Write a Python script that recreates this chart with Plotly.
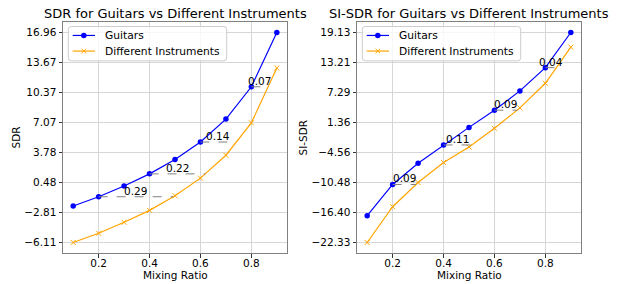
import numpy as np
import plotly.graph_objects as go

# ---- data ----
ratios = [0.1, 0.2, 0.3, 0.4, 0.5, 0.6, 0.7, 0.8, 0.9]
sdr_guitars = [-2.10, -1.08, 0.09, 1.43, 3.00, 4.93, 7.45, 11.00, 16.963]
sdr_different = [-6.110, -5.09, -3.89, -2.58, -0.97, 0.96, 3.48, 7.04, 13.06]
sisdr_guitars = [-17.03, -10.87, -6.67, -3.07, 0.40, 3.80, 7.60, 12.19, 19.1306]
sisdr_different = [-22.3255, -15.26, -10.48, -6.55, -3.47, 0.21, 4.25, 9.11, 16.24]
gap_ratios = [0.2, 0.4, 0.6, 0.8]
x_ticks = [0.2, 0.4, 0.6, 0.8]
series_names = ["Guitars", "Different Instruments"]
titles = ["SDR for Guitars vs Different Instruments", "SI-SDR for Guitars vs Different Instruments"]
y_titles = ["SDR", "SI-SDR"]

FONT = "DejaVu Sans"
BLUE = "#0000ff"
ORANGE = "#ffa500"

# page body margin is removed by post_script -> figure fills the window
OFF = 0
W, H = 625 - OFF, 284 - OFF
ML, MR, MT, MB = 63 - OFF, 44, 21.5 - OFF, 30.5
PW = W - ML - MR
PH = H - MT - MB


def fx(px):
    return (px - OFF - ML) / PW


def fy(py):
    return 1 - (py - OFF - MT) / PH


fig = go.Figure()

panels = [
    (sdr_guitars, sdr_different, "x", "y", [fx(63), fx(287)], 0),
    (sisdr_guitars, sisdr_different, "x2", "y2", [fx(357), fx(581)], 294),
]

annotations = []
shapes = []
for i, (g, d, xa, ya, dom, lgoff) in enumerate(panels):
    fig.add_trace(go.Scatter(
        x=ratios, y=g, mode="lines+markers", name=series_names[0],
        line=dict(color=BLUE, width=1.2),
        marker=dict(symbol="circle", size=5.5, color=BLUE),
        xaxis=xa, yaxis=ya, showlegend=False))
    fig.add_trace(go.Scatter(
        x=ratios, y=d, mode="lines+markers", name=series_names[1],
        line=dict(color=ORANGE, width=1.2),
        marker=dict(symbol="x-thin", size=5, color=ORANGE, line=dict(color=ORANGE, width=1)),
        xaxis=xa, yaxis=ya, showlegend=False))

    # gap lines: horizontal distance until the other curve reaches the same value
    for r in gap_ratios:
        gv = float(np.interp(r, ratios, g))
        x_end = float(np.interp(gv, d, ratios))
        gap = x_end - r
        fig.add_trace(go.Scatter(
            x=[r, x_end], y=[gv, gv], mode="lines",
            line=dict(color="gray", width=1, dash="dash"),
            showlegend=False, hoverinfo="skip", xaxis=xa, yaxis=ya))
        annotations.append(dict(
            x=(r + x_end) / 2, y=gv, xref=xa, yref=ya, text=f"{gap:.2f}",
            showarrow=False, yanchor="bottom", xanchor="center", yshift=-2,
            font=dict(family=FONT, size=10.5, color="black")))

    lo, hi = min(d), max(g)
    span = hi - lo
    yt = np.linspace(lo, hi, 8)
    yt_text = [f"{v:.2f}".replace("-", "\u2212") for v in yt]
    axis_common = dict(
        showline=True, mirror=True, linecolor="#808080", linewidth=1,
        ticks="outside", ticklen=3.5, tickcolor="#333", tickwidth=1,
        showgrid=True, gridcolor="#d6d6d6", gridwidth=1, zeroline=False,
        tickfont=dict(family=FONT, size=10.5, color="black"))
    xkey = "xaxis" if xa == "x" else "xaxis2"
    ykey = "yaxis" if ya == "y" else "yaxis2"
    fig.update_layout(**{
        xkey: dict(domain=dom, range=[0.06, 0.94], tickvals=x_ticks,
                   ticktext=[f"{v:.1f}" for v in x_ticks], anchor=ya,
                   ticklabelstandoff=-3, **axis_common),
        ykey: dict(domain=[0, 1], range=[lo - 0.05 * span, hi + 0.05 * span],
                   tickvals=list(yt), ticktext=yt_text, anchor=xa, **axis_common),
    })

    # titles
    annotations.append(dict(
        x=0.5, y=fy(12.8), xref=f"{xa} domain", yref="paper",
        text=titles[i], showarrow=False, xanchor="center", yanchor="middle",
        font=dict(family=FONT, size=13, color="black")))
    annotations.append(dict(
        x=0.5, y=fy(275.5), xref=f"{xa} domain", yref="paper",
        text="Mixing Ratio", showarrow=False, xanchor="center", yanchor="middle",
        font=dict(family=FONT, size=10.5, color="black")))
    ytx = 15 if i == 0 else 302
    annotations.append(dict(
        x=fx(ytx), y=0.5, xref="paper", yref="paper",
        text=y_titles[i], showarrow=False, textangle=-90,
        xanchor="center", yanchor="middle",
        font=dict(family=FONT, size=10.5, color="black")))

    # legend box (matplotlib style, rounded corners)
    L, R, T, B = 68.3 + lgoff, 226.7 + lgoff, 26, 60.5
    rr = 3
    path = (f"M {fx(L + rr)},{fy(T)} L {fx(R - rr)},{fy(T)} Q {fx(R)},{fy(T)} {fx(R)},{fy(T + rr)} "
            f"L {fx(R)},{fy(B - rr)} Q {fx(R)},{fy(B)} {fx(R - rr)},{fy(B)} "
            f"L {fx(L + rr)},{fy(B)} Q {fx(L)},{fy(B)} {fx(L)},{fy(B - rr)} "
            f"L {fx(L)},{fy(T + rr)} Q {fx(L)},{fy(T)} {fx(L + rr)},{fy(T)} Z")
    shapes.append(dict(type="path", path=path, xref="paper", yref="paper",
                       fillcolor="rgba(255,255,255,0.8)", line=dict(color="#cccccc", width=1),
                       layer="above"))
    rows = [35, 50.7]
    x0s, x1s, xm = 72.7 + lgoff, 95 + lgoff, 83.8 + lgoff
    # guitars sample
    shapes.append(dict(type="line", xref="paper", yref="paper", x0=fx(x0s), x1=fx(x1s),
                       y0=fy(rows[0]), y1=fy(rows[0]), line=dict(color=BLUE, width=1.2), layer="above"))
    rm = 2.75
    shapes.append(dict(type="circle", xref="paper", yref="paper", x0=fx(xm - rm), x1=fx(xm + rm),
                       y0=fy(rows[0] + rm), y1=fy(rows[0] - rm), fillcolor=BLUE,
                       line=dict(color=BLUE, width=0), layer="above"))
    # different instruments sample
    shapes.append(dict(type="line", xref="paper", yref="paper", x0=fx(x0s), x1=fx(x1s),
                       y0=fy(rows[1]), y1=fy(rows[1]), line=dict(color=ORANGE, width=1.2), layer="above"))
    xs = 2.3
    for sgn in (1, -1):
        shapes.append(dict(type="line", xref="paper", yref="paper",
                           x0=fx(xm - xs), x1=fx(xm + xs),
                           y0=fy(rows[1] - sgn * xs), y1=fy(rows[1] + sgn * xs),
                           line=dict(color=ORANGE, width=1), layer="above"))
    for k, name in enumerate(series_names):
        annotations.append(dict(
            x=fx(103 + lgoff), y=fy(rows[k]), xref="paper", yref="paper",
            text=name, showarrow=False, xanchor="left", yanchor="middle",
            font=dict(family=FONT, size=10.7, color="black")))

fig.update_layout(
    width=W, height=H,
    margin=dict(l=ML, r=MR, t=MT, b=MB),
    paper_bgcolor="white", plot_bgcolor="white",
    font=dict(family=FONT, size=10.5, color="black"),
    annotations=annotations,
    shapes=shapes,
    showlegend=False,
)

fig.write_html("out.html",
               config={"displayModeBar": False},
               post_script="document.body.style.margin='0';document.body.style.overflow='hidden';")
